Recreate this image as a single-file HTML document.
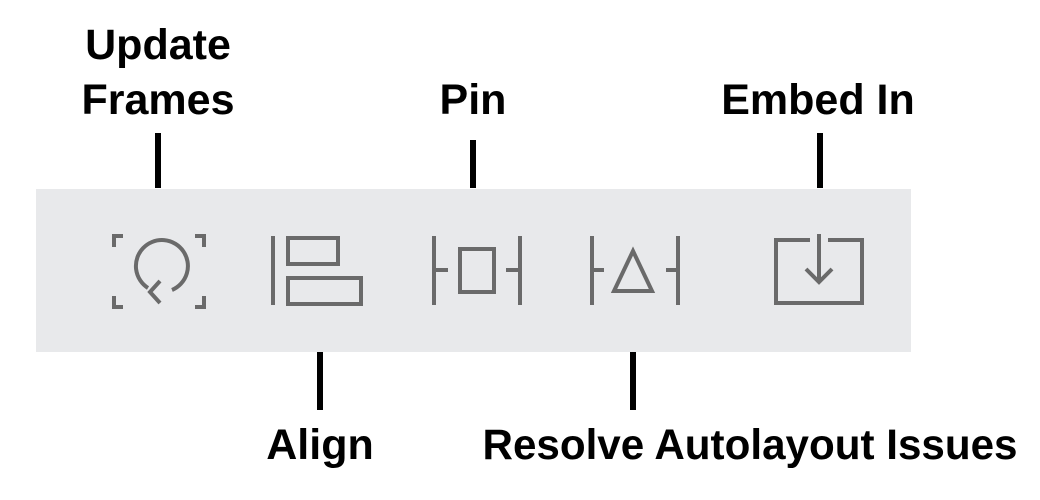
<!DOCTYPE html>
<html><head><meta charset="utf-8"><style>
html,body{margin:0;padding:0;background:#fff;width:1040px;height:500px;overflow:hidden}
svg{display:block}
text{font-family:"Liberation Sans",Arial,sans-serif;font-weight:bold;font-size:43px;fill:#000}
</style></head><body>
<svg width="1040" height="500" viewBox="0 0 1040 500">
<rect x="36" y="189" width="875" height="163" fill="#e8e9eb"/>
<g stroke="#6a6a6a" stroke-width="4" fill="none" stroke-linecap="butt">
 <g>
  <path d="M114 247 V236 H123 M204 247 V236 H195 M114 296 V307 H123 M204 296 V307 H195"/>
  <path d="M148 288 A26 26 0 1 1 172 290"/>
  <path d="M160 281 L150 292 L160 303"/>
 </g>
 <g>
  <path d="M273 236 V305"/>
  <rect x="288" y="238" width="50" height="26"/>
  <rect x="288" y="278" width="73" height="26"/>
 </g>
 <g>
  <path d="M434 236 V305 M520 236 V305 M434 270 H448 M506 270 H520"/>
  <rect x="460" y="249" width="34" height="43"/>
 </g>
 <g>
  <path d="M592 236 V305 M678 236 V305 M592 270 H604 M666 270 H678"/>
  <path d="M633 251 L652 291 H614 Z"/>
 </g>
 <g>
  <path d="M810 240 H776 V303 H862 V240 H828"/>
  <path d="M819 234 V282 M806 269 L819 282 L832 269"/>
 </g>
</g>
<g fill="#000">
 <rect x="155" y="133" width="6" height="55"/>
 <rect x="470" y="140" width="6" height="48"/>
 <rect x="817" y="133" width="6" height="55"/>
 <rect x="317" y="352" width="6" height="58"/>
 <rect x="630" y="352" width="6" height="58"/>
</g>
<text x="158" y="59" text-anchor="middle">Update</text>
<text x="158" y="114" text-anchor="middle">Frames</text>
<text x="473" y="114" text-anchor="middle">Pin</text>
<text x="818" y="114" text-anchor="middle">Embed In</text>
<text x="320" y="459" text-anchor="middle">Align</text>
<text x="750" y="459" text-anchor="middle" textLength="535" lengthAdjust="spacingAndGlyphs">Resolve Autolayout Issues</text>
</svg>
</body></html>
